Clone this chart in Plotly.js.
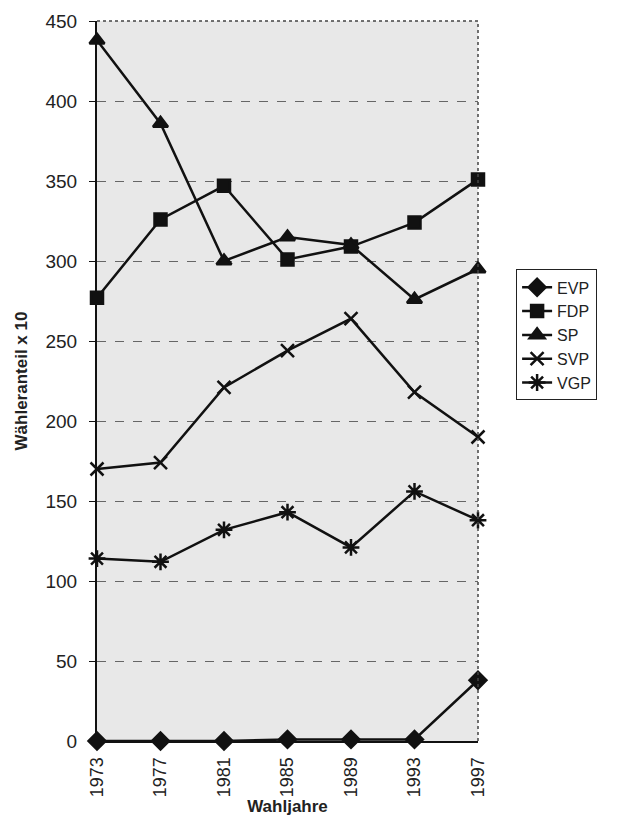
<!DOCTYPE html>
<html><head><meta charset="utf-8">
<script src="https://cdn.plot.ly/plotly-3.0.1.min.js"></script>
<style>html,body{margin:0;padding:0;background:#fff;}#chart{width:637px;height:837px;}</style>
</head><body><div id="chart"></div>
<script>
const years = [1973, 1977, 1981, 1985, 1989, 1993, 1997];
const tickLabels = ["1973", "1977", "1981", "1985", "1989", "1993", "1997"];
const EVP = [0, 0, 0, 1, 1, 1, 38];
const FDP = [277, 326, 347, 301, 309, 324, 351];
const SP  = [438, 386, 300, 315, 310, 276, 295];
const SVP = [170, 174, 221, 244, 264, 218, 190];
const VGP = [114, 112, 132, 143, 121, 156, 138];

const names = ["EVP", "FDP", "SP", "SVP", "VGP"];
const series = [EVP, FDP, SP, SVP, VGP];
const symbols = ["diamond", "square", "triangle-up", "x-thin-open", "asterisk-open"];
const sizes = [13, 12, 13, 13, 14];

const traces = series.map((s, i) => ({
  x: years, y: s, name: names[i], type: "scatter", mode: "lines+markers", cliponaxis: false,
  line: {color: "#111", width: 2.5},
  marker: {symbol: symbols[i], size: sizes[i], color: "#111", line: {color: "#111", width: 2.5}}
}));

const layout = {
  width: 637, height: 837,
  margin: {l: 97, r: 159, t: 21, b: 96},
  paper_bgcolor: "#fff", plot_bgcolor: "#e8e8e8",
  font: {family: "Liberation Sans, Arial, sans-serif", color: "#222", size: 18},
  showlegend: true,
  legend: {x: 1.1, y: 0.655, xanchor: "left", yanchor: "top", bgcolor: "#fff",
    bordercolor: "#222", borderwidth: 1, font: {size: 16}, tracegroupgap: 0},
  xaxis: {
    range: [1973, 1997], tickvals: years, ticktext: tickLabels, tickangle: -90,
    showgrid: false, zeroline: false, showline: true, linecolor: "#111", linewidth: 2,
    ticks: "", ticklen: 0, tickfont: {size: 18}, ticklabelstandoff: 7,
    title: {text: "<b>Wahljahre</b>", font: {size: 17}, standoff: 4}
  },
  yaxis: {
    range: [0, 450], dtick: 50, showgrid: true, gridcolor: "#666", griddash: "dash", gridwidth: 1,
    zeroline: false, showline: true, linecolor: "#111", linewidth: 2,
    ticks: "outside", ticklen: 6, tickcolor: "#111", tickfont: {size: 19}, ticklabelstandoff: 8,
    title: {text: "<b>Wähleranteil x 10</b>", font: {size: 17}, standoff: 14}
  },
  shapes: [
    {type: "line", xref: "paper", yref: "paper", x0: 0, x1: 1, y0: 1, y1: 1, line: {color: "#444", width: 1.5, dash: "dot"}},
    {type: "line", xref: "paper", yref: "paper", x0: 1, x1: 1, y0: 0, y1: 1, line: {color: "#444", width: 1.5, dash: "dot"}}
  ]
};
Plotly.newPlot("chart", traces, layout, {displayModeBar: false, staticPlot: true});
</script></body></html>
